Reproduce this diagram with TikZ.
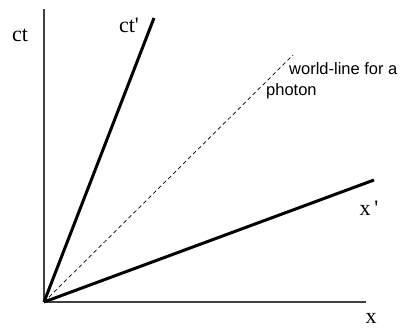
\documentclass[tikz,border=0pt]{standalone}
\usepackage{fontspec}
\setmainfont{Liberation Serif}
\setsansfont{Liberation Sans}
\usetikzlibrary{positioning}
\tikzset{
	axis/.style={
		draw=black!75,
		line width=1.3pt
	},
	frameline/.style={
		draw=black,
		line width=3pt
	},
	photonline/.style={
		draw=black,
		line width=0.7pt,
		dash pattern=on 4pt off 3pt
	},
	axislabel/.style={
		font=\fontsize{22}{26}\selectfont,
		inner sep=0pt
	},
	notelabel/.style={
		font=\sffamily\fontsize{16.5}{21}\selectfont,
		align=left,
		inner sep=0pt
	}
}

\begin{document}
\begin{tikzpicture}[x=1pt, y=-1pt]
		\useasboundingbox (0,0) rectangle (403,327);
		
		% points
		\coordinate (o)      at (44,302);
		\coordinate (ctend)  at (44,9);
		\coordinate (xend)   at (366,302);
		\coordinate (ctpend) at (154,18);
		\coordinate (xpend)  at (374,180);
		\coordinate (phend)  at (293,55);
		
		% rest frame axes
		\draw [axis] (o) -- (ctend);
		\draw [axis] (o) -- (xend);
		
		% moving frame axes
		\draw [frameline] (o) -- (ctpend);
		\draw [frameline] (o) -- (xpend);
		
		% light
		\draw [photonline] (o) -- (phend);
		
		% labels
		\node (ct)  [axislabel] at (20,35)  {ct};
		\node (ctp) [axislabel] at (129,25) {ct\textquotesingle};
		\node (xp)  [axislabel] at (369,208) {x\,\textquotesingle};
		\node (x)   [axislabel] at (371,318) {x};
		\node (note) [notelabel, anchor=north west] at (266,62)
			{\hspace*{23pt}world-line for a\\photon};
		
	\end{tikzpicture}
\end{document}
